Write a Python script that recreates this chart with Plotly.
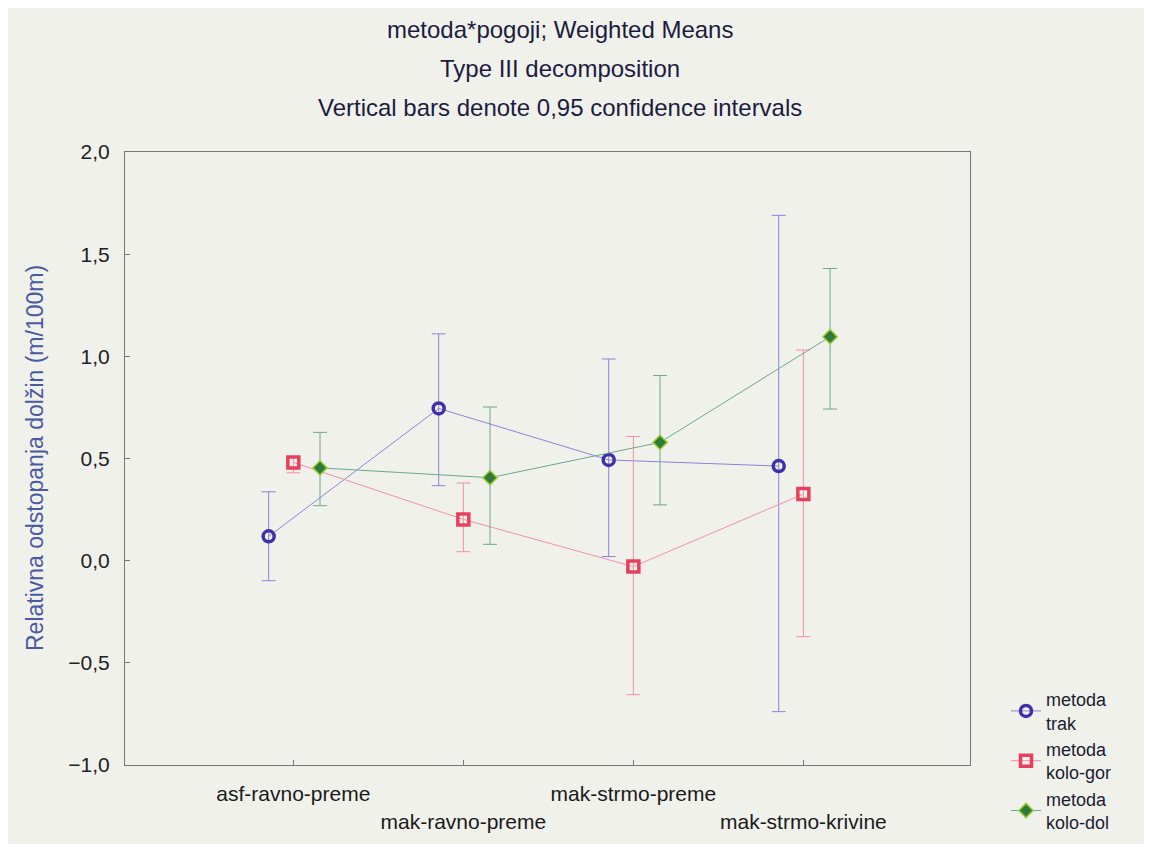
import plotly.graph_objects as go

categories = ["asf-ravno-preme", "mak-ravno-preme", "mak-strmo-preme", "mak-strmo-krivine"]
tick_labels = ["asf-ravno-preme", "<br>mak-ravno-preme", "mak-strmo-preme", "<br>mak-strmo-krivine"]

series_names = ["metoda<br>trak", "metoda<br>kolo-gor", "metoda<br>kolo-dol"]

trak_mean = [0.119, 0.745, 0.493, 0.463]
trak_upper = [0.337, 1.110, 0.987, 1.690]
trak_lower = [-0.098, 0.367, 0.020, -0.739]

gor_mean = [0.481, 0.202, -0.029, 0.326]
gor_upper = [0.510, 0.380, 0.608, 1.031]
gor_lower = [0.430, 0.044, -0.656, -0.372]

dol_mean = [0.454, 0.406, 0.579, 1.096]
dol_upper = [0.628, 0.752, 0.906, 1.430]
dol_lower = [0.269, 0.080, 0.273, 0.742]

offsets = [-0.145, 0.0, 0.157]
marker_colors = ["#3e30a8", "#e8405c", "#2f7a38"]
line_colors = ["#8d82d8", "#f290a4", "#6aa890"]
symbols = ["circle-open", "square-open", "diamond"]

# page offset (body margin) and figure geometry in screen pixels
OFF = 8
FW, FH = 1152 - 2 * OFF, 852 - 2 * OFF
X0, X1 = 125, 970   # plot area, screen px
Y0, Y1 = 152, 765


def px_x(sx):
    return (sx - X0) / (X1 - X0)


def px_y(sy):
    return (Y1 - sy) / (Y1 - Y0)


fig = go.Figure()
data = [
    (trak_mean, trak_upper, trak_lower),
    (gor_mean, gor_upper, gor_lower),
    (dol_mean, dol_upper, dol_lower),
]
for i, (m, u, l) in enumerate(data):
    xs = [k + 1 + offsets[i] for k in range(len(categories))]
    marker = dict(symbol=symbols[i], size=11, color=marker_colors[i],
                  line=dict(width=3.5 if i < 2 else 1.5,
                            color=marker_colors[i] if i < 2 else "#9acd32"))
    fig.add_trace(go.Scatter(
        x=xs, y=m, mode="lines+markers", name=series_names[i],
        line=dict(color=line_colors[i], width=1),
        marker=marker,
        error_y=dict(type="data", symmetric=False,
                     array=[a - b for a, b in zip(u, m)],
                     arrayminus=[b - c for b, c in zip(m, l)],
                     color=line_colors[i], thickness=1, width=7),
    ))

FONT = "Liberation Sans, Arial"
titles = ["metoda*pogoji; Weighted Means", "Type III decomposition",
          "Vertical bars denote 0,95 confidence intervals"]
title_y = [30, 68, 108]
annotations = []
for t, yy in zip(titles, title_y):
    annotations.append(dict(text=t, xref="paper", yref="paper",
                            x=px_x(560), y=px_y(yy),
                            xanchor="center", yanchor="middle", showarrow=False,
                            font=dict(size=24, color="#1c1c40", family=FONT)))
annotations.append(dict(text="Relativna odstopanja dolžin (m/100m)", xref="paper", yref="paper",
                        x=px_x(35), y=px_y(458), xanchor="center", yanchor="middle",
                        textangle=-90, showarrow=False,
                        font=dict(size=23, color="#4a5aa0", family=FONT)))

fig.update_layout(
    width=FW, height=FH,
    margin=dict(l=X0 - OFF, r=FW - (X1 - OFF), t=Y0 - OFF, b=FH - (Y1 - OFF),
                autoexpand=False),
    paper_bgcolor="#f1f1ec", plot_bgcolor="#f1f1ec",
    separators=", ",
    font=dict(family=FONT, size=21, color="#222222"),
    showlegend=True,
    legend=dict(x=px_x(1006), y=px_y(681), xanchor="left", yanchor="top",
                bgcolor="rgba(0,0,0,0)", itemwidth=30,
                font=dict(size=18, color="#1c1c30"), tracegroupgap=0),
    annotations=annotations,
    xaxis=dict(range=[0.01, 4.98], tickmode="array", tickvals=[1, 2, 3, 4],
               ticktext=tick_labels, showgrid=False, zeroline=False,
               showline=True, linecolor="#777777", linewidth=1, mirror=True,
               ticks="inside", ticklen=5, tickcolor="#777777",
               ticklabelstandoff=10,
               tickfont=dict(size=21, color="#1a1a1a")),
    yaxis=dict(range=[-1.0, 2.0], dtick=0.5, tickformat=".1f", showgrid=False,
               zeroline=False, showline=True, linecolor="#777777", linewidth=1,
               mirror=True, ticks="inside", ticklen=5, tickcolor="#777777",
               ticklabelstandoff=10,
               tickfont=dict(size=21, color="#222222")),
)

fig.write_html("out.html")
